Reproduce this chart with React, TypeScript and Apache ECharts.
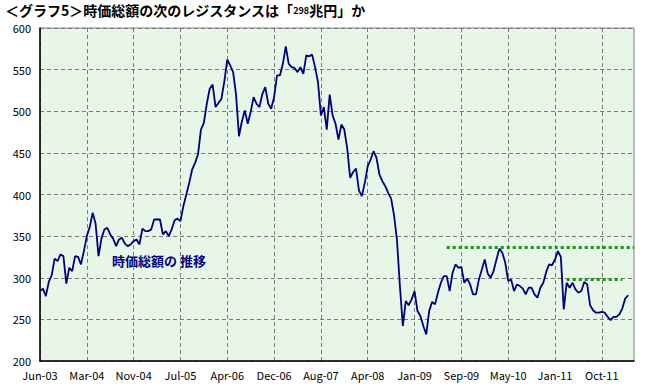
import React, { useEffect, useRef } from "react";
import * as echarts from "echarts";

const titleText = "＜グラフ5＞時価総額の次のレジスタンスは「{s|298}兆円」か";
const annotation = "時価総額の 推移";
const tickLabels = [
  "Jun-03", "Mar-04", "Nov-04", "Jul-05", "Apr-06", "Dec-06", "Aug-07",
  "Apr-08", "Jan-09", "Sep-09", "May-10", "Jan-11", "Oct-11",
];
const pointsPerTick = 16;
const totalPoints = 204;

// 時価総額 (兆円), sampled along the time axis
const marketCap = [
  284, 287, 278, 295, 303, 323, 320, 328, 326, 293, 312, 308, 326, 325, 316, 332,
  350, 361, 378, 365, 326, 347, 358, 360, 352, 347, 338, 346, 348, 341, 338, 340,
  344, 346, 340, 359, 356, 356, 358, 370, 370, 370, 352, 356, 350, 358, 369, 371,
  368, 386, 400, 414, 430, 438, 448, 478, 486, 509, 527, 532, 505, 510, 515, 536,
  562, 555, 547, 520, 470, 488, 501, 485, 499, 517, 509, 505, 521, 529, 509, 503,
  517, 543, 543, 557, 578, 557, 553, 552, 547, 553, 545, 567, 566, 568, 553, 535,
  495, 505, 478, 520, 495, 485, 466, 484, 478, 455, 420, 427, 431, 405, 398, 414,
  434, 442, 452, 444, 424, 416, 410, 402, 395, 375, 345, 290, 242, 272, 267, 274,
  284, 260, 254, 242, 232, 260, 271, 268, 282, 294, 302, 302, 284, 306, 316, 312,
  313, 294, 299, 292, 280, 280, 298, 310, 322, 305, 300, 308, 322, 335, 330, 318,
  296, 298, 284, 292, 290, 287, 280, 288, 288, 280, 276, 288, 294, 307, 316, 315,
  322, 332, 325, 262, 294, 288, 294, 286, 282, 284, 295, 292, 267, 261, 258, 258,
  259, 258, 253, 249, 253, 253, 256, 263, 275, 279,
];

// resistance levels: value and start/end point index
const resistanceValues = [337, 298];
const resistanceFrom = [139, 180];
const resistanceTo = [203, 199];

export default function App() {
  const ref = useRef<HTMLDivElement>(null);
  useEffect(() => {
    document.body.style.margin = "0";
    const chart = echarts.init(ref.current!, undefined, { renderer: "svg" });
    const categories = Array.from({ length: totalPoints }, (_, i) =>
      i % pointsPerTick === 0 ? tickLabels[i / pointsPerTick] ?? "" : ""
    );
    const font = "'Noto Sans CJK JP', 'DejaVu Sans', sans-serif";
    chart.setOption({
      animation: false,
      backgroundColor: "#ffffff",
      title: {
        text: titleText,
        left: 5,
        top: 3,
        padding: 0,
        textStyle: {
          fontFamily: font,
          fontSize: 14,
          lineHeight: 14,
          fontWeight: "bold",
          color: "#000000",
          rich: {
            s: { fontSize: 9, lineHeight: 14, fontWeight: "bold", fontFamily: font, color: "#000000" },
          },
        },
      },
      grid: {
        left: 40,
        right: 20,
        top: 28,
        bottom: 28,
        show: true,
        backgroundColor: "#e8f6e8",
        borderColor: "#808080",
        borderWidth: 1,
      },
      xAxis: {
        type: "category",
        data: categories,
        boundaryGap: false,
        axisLine: { lineStyle: { color: "#000000", width: 1.5 } },
        axisTick: { show: false },
        axisLabel: {
          interval: pointsPerTick - 1,
          color: "#000000",
          fontSize: 11,
          fontFamily: font,
          margin: 8,
        },
        splitLine: {
          show: true,
          interval: pointsPerTick - 1,
          lineStyle: { color: "#7a7a7a", type: [4, 3], width: 1 },
        },
      },
      yAxis: {
        type: "value",
        min: 200,
        max: 600,
        interval: 50,
        axisLine: { show: true, lineStyle: { color: "#000000", width: 1.5 } },
        axisTick: { show: false },
        axisLabel: { color: "#000000", fontSize: 11, lineHeight: 12, fontFamily: font, margin: 9 },
        splitLine: { lineStyle: { color: "#7a7a7a", type: [4, 3], width: 1 } },
      },
      series: [
        {
          type: "line",
          data: marketCap,
          showSymbol: false,
          symbol: "none",
          lineStyle: { color: "#000080", width: 1.8 },
          markLine: {
            silent: true,
            symbol: "none",
            label: { show: false },
            lineStyle: { color: "#109a10", width: 3, type: [3, 3] },
            data: resistanceValues.map((v, k) => [
              { coord: [resistanceFrom[k], v] },
              { coord: [resistanceTo[k], v] },
            ]),
          },
        },
      ],
      graphic: [
        {
          type: "text",
          left: 112,
          top: 254,
          style: {
            text: annotation,
            fill: "#000080",
            font: `bold 13px ${font}`,
          },
        },
      ],
    });
    return () => chart.dispose();
  }, []);
  return <div ref={ref} style={{ width: 654, height: 389 }} />;
}
